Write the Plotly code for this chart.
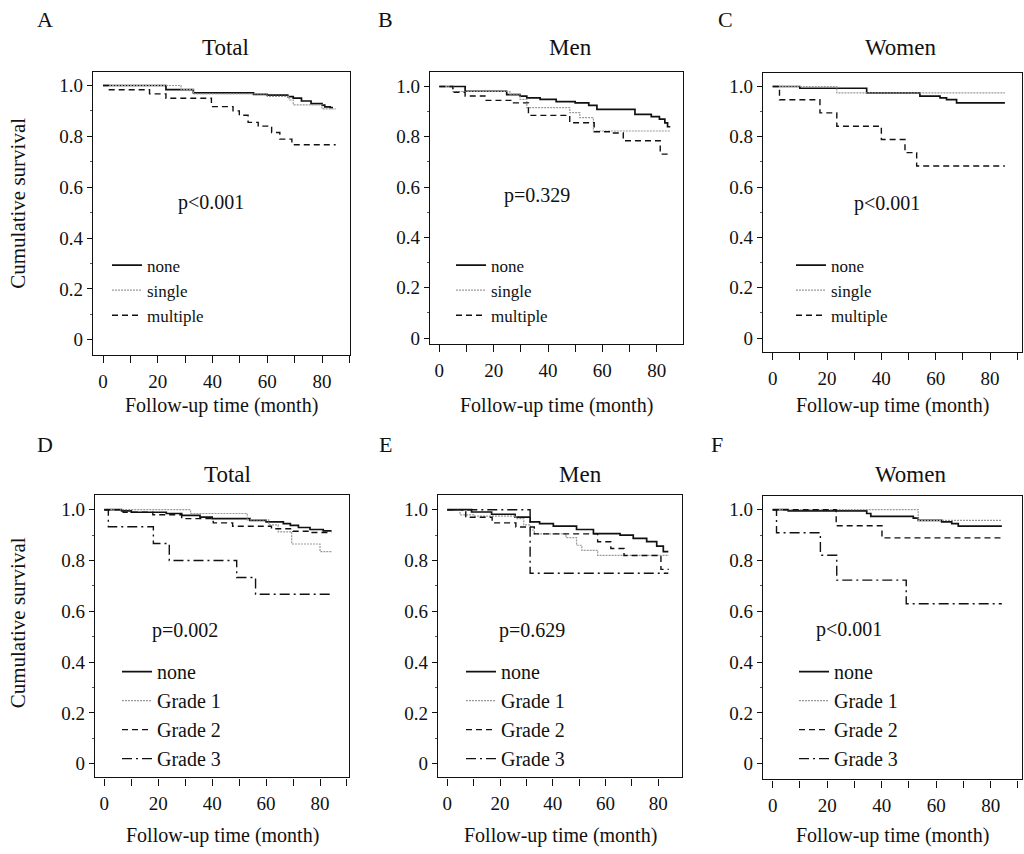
import plotly.graph_objects as go

W, H = 1024, 854
FONT = "Liberation Serif"

# ---------------- data ----------------
# Panel A: Total, by number of lesions
A_none_t = [0, 23, 33, 55, 60, 67.5, 69.5, 72.5, 76, 80, 81, 83, 84]
A_none_s = [1.0, 0.984, 0.971, 0.965, 0.962, 0.956, 0.950, 0.939, 0.929, 0.923, 0.916, 0.913, 0.913]
A_single_t = [0, 28.5, 33, 60, 68, 69.5, 80, 85]
A_single_s = [1.0, 0.984, 0.967, 0.957, 0.943, 0.924, 0.908, 0.908]
A_multi_t = [0, 2, 17, 23, 39.6, 47.5, 49.8, 53, 56.7, 61.6, 64.6, 69, 85]
A_multi_s = [1.0, 0.983, 0.967, 0.95, 0.917, 0.9, 0.883, 0.855, 0.84, 0.815, 0.789, 0.767, 0.767]

# Panel B: Men
B_none_t = [0, 9.5, 24.8, 29.7, 32.2, 37.1, 43, 50, 55, 58, 72, 78, 81, 83, 84, 85]
B_none_s = [1.0, 0.981, 0.968, 0.962, 0.955, 0.949, 0.94, 0.935, 0.925, 0.909, 0.889, 0.88, 0.87, 0.855, 0.84, 0.84]
B_single_t = [0, 5, 26, 29.7, 32.2, 48, 51.7, 56.7, 85]
B_single_s = [1.0, 0.98, 0.97, 0.949, 0.916, 0.896, 0.876, 0.823, 0.823]
B_multi_t = [0, 5, 9.5, 16.8, 27.3, 32.8, 48, 57, 63, 67.7, 81.3, 84.4]
B_multi_s = [1.0, 0.977, 0.962, 0.945, 0.935, 0.885, 0.856, 0.82, 0.815, 0.784, 0.731, 0.731]

# Panel C: Women
C_none_t = [0, 10, 34.6, 54.2, 61.6, 64, 67.7, 85.5]
C_none_s = [1.0, 0.993, 0.975, 0.962, 0.955, 0.948, 0.935, 0.935]
C_single_t = [0, 23.6, 85.5]
C_single_s = [1.0, 0.975, 0.975]
C_multi_t = [0, 2.5, 17.4, 23.6, 40, 48.7, 53, 85.5]
C_multi_s = [1.0, 0.947, 0.895, 0.842, 0.789, 0.737, 0.684, 0.684]

# Panel D: Total, by grade
D_none_t = [0, 6.4, 10, 23, 28.7, 35.5, 40, 54, 60, 66.4, 69, 72, 76.3, 81.2, 84.3]
D_none_s = [1.0, 0.995, 0.99, 0.985, 0.978, 0.971, 0.965, 0.958, 0.952, 0.945, 0.938, 0.93, 0.922, 0.917, 0.917]
D_g1_t = [0, 32, 53, 61, 64.5, 69.5, 80, 84.3]
D_g1_s = [1.0, 0.985, 0.96, 0.94, 0.913, 0.865, 0.835, 0.835]
D_g2_t = [0, 7, 18, 28.7, 40.4, 47.6, 62, 70, 76, 84.3]
D_g2_s = [1.0, 0.99, 0.98, 0.965, 0.948, 0.935, 0.925, 0.915, 0.91, 0.91]
D_g3_t = [0, 1.5, 18.2, 24.1, 49.1, 56.1, 84.3]
D_g3_s = [1.0, 0.933, 0.867, 0.8, 0.733, 0.667, 0.667]

# Panel E: Men, by grade
E_none_t = [0, 9.2, 16.8, 25.7, 31.4, 35, 40.2, 49, 55.4, 65.5, 70.5, 75.6, 79.4, 81.9, 83.8]
E_none_s = [1.0, 0.991, 0.982, 0.971, 0.952, 0.945, 0.935, 0.922, 0.906, 0.9, 0.887, 0.874, 0.857, 0.835, 0.835]
E_g1_t = [0, 4.8, 10, 26, 29, 31.5, 33, 45, 49, 51, 57, 84]
E_g1_s = [1.0, 0.98, 0.975, 0.965, 0.94, 0.92, 0.905, 0.89, 0.86, 0.84, 0.82, 0.82]
E_g2_t = [0, 7, 17, 26, 33, 57, 62, 67, 81, 84]
E_g2_s = [1.0, 0.97, 0.948, 0.932, 0.905, 0.874, 0.847, 0.82, 0.765, 0.765]
E_g3_t = [0, 31.4, 83.8]
E_g3_s = [1.0, 0.75, 0.75]

# Panel F: Women, by grade
F_none_t = [0, 5.7, 34.5, 36, 51.6, 53.4, 62, 65.7, 68.1, 84.1]
F_none_s = [1.0, 0.995, 0.985, 0.974, 0.967, 0.958, 0.952, 0.945, 0.935, 0.935]
F_g1_t = [0, 53.4, 84.1]
F_g1_s = [1.0, 0.958, 0.958]
F_g2_t = [0, 23.3, 40.1, 84.1]
F_g2_s = [1.0, 0.937, 0.889, 0.889]
F_g3_t = [0, 1.4, 17.5, 23.5, 49, 84.1]
F_g3_s = [1.0, 0.909, 0.821, 0.723, 0.63, 0.63]

panel_letters = ["A", "B", "C", "D", "E", "F"]
panel_titles = ["Total", "Men", "Women", "Total", "Men", "Women"]
p_values = ["p<0.001", "p=0.329", "p<0.001", "p=0.002", "p=0.629", "p<0.001"]
p_pos = [(39.4, 0.54), (36, 0.565), (42, 0.535), (30, 0.525), (32, 0.525), (28, 0.53)]

x_tick_vals = [0, 20, 40, 60, 80]
y_tick_vals = [0, 0.2, 0.4, 0.6, 0.8, 1.0]
y_tick_text = ["0", "0.2", "0.4", "0.6", "0.8", "1.0"]
x_title = "Follow-up time (month)"
y_title = "Cumulative survival"

curves = {
    "A": [("none", A_none_t, A_none_s), ("single", A_single_t, A_single_s), ("multiple", A_multi_t, A_multi_s)],
    "B": [("none", B_none_t, B_none_s), ("single", B_single_t, B_single_s), ("multiple", B_multi_t, B_multi_s)],
    "C": [("none", C_none_t, C_none_s), ("single", C_single_t, C_single_s), ("multiple", C_multi_t, C_multi_s)],
    "D": [("none", D_none_t, D_none_s), ("Grade 1", D_g1_t, D_g1_s), ("Grade 2", D_g2_t, D_g2_s), ("Grade 3", D_g3_t, D_g3_s)],
    "E": [("none", E_none_t, E_none_s), ("Grade 1", E_g1_t, E_g1_s), ("Grade 2", E_g2_t, E_g2_s), ("Grade 3", E_g3_t, E_g3_s)],
    "F": [("none", F_none_t, F_none_s), ("Grade 1", F_g1_t, F_g1_s), ("Grade 2", F_g2_t, F_g2_s), ("Grade 3", F_g3_t, F_g3_s)],
}

# ---------------- layout geometry (pixels) ----------------
geom = {
    "A": dict(frame=(93, 350, 72, 357), xpx=(103, 322), ypx=(86, 341.7)),
    "B": dict(frame=(430, 683, 72, 346), xpx=(439.3, 656.7), ypx=(87, 340)),
    "C": dict(frame=(763, 1022, 73, 354), xpx=(772.7, 990), ypx=(87, 340)),
    "D": dict(frame=(95, 349, 498, 782), xpx=(104.3, 320), ypx=(512.7, 768.3)),
    "E": dict(frame=(438, 682, 498, 782), xpx=(447.3, 658.3), ypx=(512.7, 768.3)),
    "F": dict(frame=(763, 1022, 499, 784), xpx=(772.7, 990.7), ypx=(512.7, 768.3)),
}
letter_pos = {"A": (45, 20), "B": (385, 20), "C": (725, 20), "D": (45, 447), "E": (385, 447), "F": (717, 447)}
title_pos = {"A": (225, 48), "B": (570, 48), "C": (900, 48), "D": (227, 477), "E": (580, 477), "F": (910, 477)}
legend_pos = {"A": (107, 249), "B": (451, 249), "C": (791, 249), "D": (117, 656), "E": (461, 656), "F": (794, 656)}

styles = {
    "none": dict(color="#111111", width=1.7, dash="solid"),
    "single": dict(color="#9a9a9a", width=1.2, dash="2px,1px"),
    "multiple": dict(color="#111111", width=1.4, dash="6px,4px"),
    "Grade 1": dict(color="#9a9a9a", width=1.2, dash="2px,1px"),
    "Grade 2": dict(color="#111111", width=1.4, dash="6px,4px"),
    "Grade 3": dict(color="#111111", width=1.4, dash="10px,4px,2px,4px"),
}

fig = go.Figure()
layout = dict(
    width=W, height=H, autosize=False,
    margin=dict(l=0, r=0, t=0, b=0, pad=0),
    paper_bgcolor="white", plot_bgcolor="white",
    font=dict(family=FONT, color="#111111"),
    annotations=[],
)

for i, key in enumerate(panel_letters):
    g = geom[key]
    L, R, T, B = g["frame"]
    x0, x80 = g["xpx"]
    y1, y0 = g["ypx"]
    sx = (x80 - x0) / 80.0
    sy = (y0 - y1)
    xr = [(L - x0) / sx, (R - x0) / sx]
    yr = [(y0 - B) / sy, (y0 - T) / sy]
    n = i + 1
    xa = "xaxis" if n == 1 else f"xaxis{n}"
    ya = "yaxis" if n == 1 else f"yaxis{n}"
    xref = "x" if n == 1 else f"x{n}"
    yref = "y" if n == 1 else f"y{n}"
    leg = "legend" if n == 1 else f"legend{n}"
    row2 = key in ("D", "E", "F")

    layout[xa] = dict(
        domain=[L / W, R / W], range=xr, anchor=yref,
        showline=True, linecolor="#111111", linewidth=1.3, mirror=True,
        ticks="outside", ticklen=7, tickwidth=1.1, tickcolor="#111111",
        tickvals=x_tick_vals, showgrid=False, zeroline=False,
        ticklabelstandoff=2,
        tickfont=dict(size=19, family=FONT, color="#111111"),
        minor=dict(tickvals=[10, 30, 50, 70, 90], ticks="outside", ticklen=7,
                   tickwidth=1.1, tickcolor="#111111", showgrid=False),
        fixedrange=True,
    )
    layout[ya] = dict(
        domain=[1 - B / H, 1 - T / H], range=yr, anchor=xref,
        showline=True, linecolor="#111111", linewidth=1.3, mirror=True,
        ticks="outside", ticklen=5, tickwidth=1.1, tickcolor="#111111",
        tickvals=y_tick_vals, ticktext=y_tick_text, showgrid=False, zeroline=False,
        tickfont=dict(size=19, family=FONT, color="#111111"),
        minor=dict(tickvals=[0.1, 0.3, 0.5, 0.7, 0.9], ticks="outside", ticklen=2,
                   tickwidth=1, tickcolor="#555555", showgrid=False),
        fixedrange=True,
    )

    for name, t, s in curves[key]:
        st = styles[name]
        fig.add_trace(go.Scatter(
            x=t, y=s, mode="lines", name=name, line_shape="hv",
            line=dict(color=st["color"], width=st["width"], dash=st["dash"]),
            xaxis=xref, yaxis=yref, legend=leg, showlegend=True,
        ))

    lx, ly = legend_pos[key]
    layout[leg] = dict(
        x=lx / W, y=1 - ly / H, xanchor="left", yanchor="top",
        bgcolor="rgba(0,0,0,0)", borderwidth=0,
        font=dict(family=FONT, size=20 if row2 else 17, color="#111111"),
        traceorder="normal", itemclick=False, itemdoubleclick=False,
    )

    px, py = letter_pos[key]
    layout["annotations"].append(dict(
        text=key, x=px / W, y=1 - py / H, xref="paper", yref="paper",
        showarrow=False, xanchor="center", yanchor="middle",
        font=dict(family=FONT, size=22, color="#111111")))
    px, py = title_pos[key]
    layout["annotations"].append(dict(
        text=panel_titles[i], x=px / W, y=1 - py / H, xref="paper", yref="paper",
        showarrow=False, xanchor="center", yanchor="middle",
        font=dict(family=FONT, size=23, color="#111111")))
    layout["annotations"].append(dict(
        text=p_values[i], x=p_pos[i][0], y=p_pos[i][1], xref=xref, yref=yref,
        showarrow=False, xanchor="center", yanchor="middle",
        font=dict(family=FONT, size=20, color="#111111")))
    layout["annotations"].append(dict(
        text=x_title, x=((L + R) / 2) / W, y=1 - ((408 if row2 is False else 840)) / H,
        xref="paper", yref="paper", showarrow=False, xanchor="center", yanchor="middle",
        font=dict(family=FONT, size=20, color="#111111")))
    if key in ("A", "D"):
        layout["annotations"].append(dict(
            text=y_title, x=18 / W, y=1 - ((627 if row2 else 205)) / H,
            xref="paper", yref="paper", showarrow=False, textangle=-90,
            xanchor="center", yanchor="middle",
            font=dict(family=FONT, size=21, color="#111111")))

fig.update_layout(**layout)
fig.write_html(
    "out.html",
    config={"displayModeBar": False},
    post_script="document.body.style.margin='0';document.body.style.overflow='hidden';",
)
